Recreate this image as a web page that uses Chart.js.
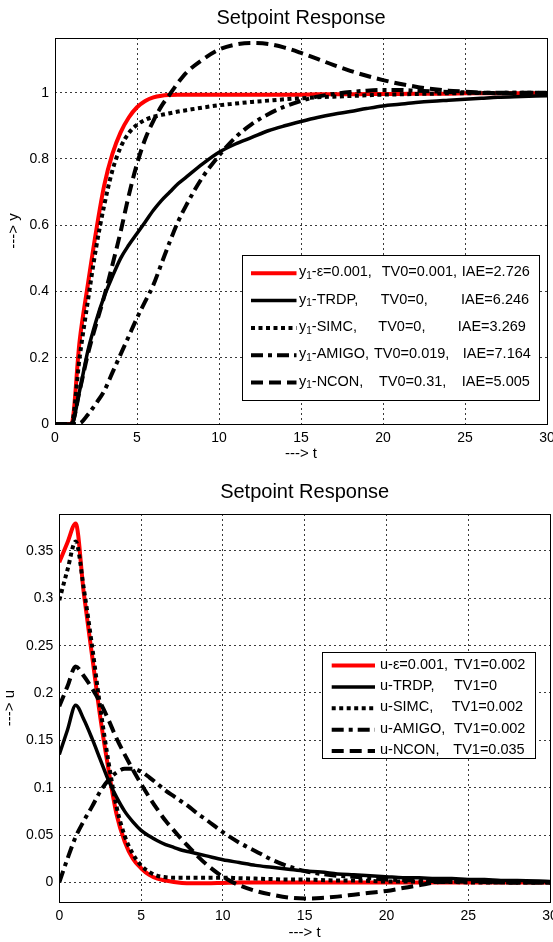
<!DOCTYPE html>
<html>
<head>
<meta charset="utf-8">
<script src="https://cdn.jsdelivr.net/npm/chart.js@4/dist/chart.umd.min.js"></script>
<style>
  html, body { margin: 0; padding: 0; background: #fff; }
  #wrap { position: relative; width: 553px; height: 942px; overflow: hidden; background: #fff; }
  canvas { position: absolute; left: 0; }
  #cy { top: 0; }
  #cu { top: 470px; }
</style>
</head>
<body>
<div id="wrap">
  <canvas id="cy" width="553" height="470"></canvas>
  <canvas id="cu" width="553" height="472"></canvas>
</div>
<script>
// ---------- output y(t) ----------
const timeY = [0, 1, 1.5, 2, 2.5, 3, 3.5, 4, 4.5, 5, 5.5, 6, 6.5, 7, 7.5, 8, 9, 10, 11, 12, 13, 14, 15,
               16, 17, 18, 19, 20, 21, 22, 23, 24, 25, 26, 27, 28, 30];
const yEps   = [0, 0, 0.25, 0.42, 0.58, 0.72, 0.815, 0.88, 0.925, 0.956, 0.975, 0.986, 0.991, 0.993, 0.994, 0.994,
                0.994, 0.994, 0.994, 0.994, 0.994, 0.994, 0.994, 0.995, 0.995, 0.995, 0.996, 0.996, 0.996, 0.997,
                0.997, 0.997, 0.998, 0.998, 0.998, 0.998, 0.999];
const yTrdp  = [0, 0, 0.1, 0.22, 0.31, 0.385, 0.445, 0.5, 0.54, 0.575, 0.61, 0.645, 0.675, 0.7, 0.725, 0.745,
                0.785, 0.82, 0.845, 0.865, 0.885, 0.9, 0.913, 0.925, 0.935, 0.943, 0.952, 0.96, 0.965, 0.97,
                0.974, 0.977, 0.98, 0.983, 0.986, 0.988, 0.991];
const ySimc  = [0, 0, 0.2, 0.37, 0.53, 0.66, 0.765, 0.835, 0.878, 0.903, 0.918, 0.927, 0.933, 0.938, 0.943, 0.947,
                0.955, 0.962, 0.967, 0.972, 0.976, 0.98, 0.983, 0.986, 0.988, 0.99, 0.992, 0.994, 0.995, 0.996,
                0.997, 0.998, 0.998, 0.999, 0.999, 1.0, 1.0];
const yAmigo = [0, 0, 0.002, 0.028, 0.062, 0.1, 0.155, 0.21, 0.265, 0.32, 0.37, 0.42, 0.485, 0.55, 0.61, 0.66,
                0.745, 0.81, 0.865, 0.905, 0.935, 0.958, 0.975, 0.988, 0.996, 1.002, 1.006, 1.008, 1.008, 1.006,
                1.004, 1.002, 1.001, 1.0, 1.0, 1.0, 1.0];
const yNcon  = [0, 0, 0.1, 0.21, 0.3, 0.385, 0.48, 0.58, 0.69, 0.785, 0.86, 0.915, 0.96, 0.995, 1.03, 1.06,
                1.1, 1.13, 1.145, 1.15, 1.147, 1.136, 1.12, 1.102, 1.083, 1.066, 1.051, 1.038, 1.027, 1.018,
                1.011, 1.006, 1.003, 1.0, 0.998, 0.998, 0.999];

// ---------- control signal u(t) ----------
const timeU = [0, 0.5, 1, 1.5, 2, 2.5, 3, 3.5, 4, 4.5, 5, 5.5, 6, 6.5, 7, 7.5, 8, 8.5, 9, 10, 11, 12, 13, 14,
               15, 16, 17, 18, 19, 20, 21, 22, 23, 24, 25, 26, 27, 28, 30];
const uEps   = [0.338, 0.359, 0.379, 0.305, 0.24, 0.175, 0.12, 0.072, 0.043, 0.025, 0.015, 0.008, 0.004, 0.002,
                0.0005, -0.0005, -0.001, -0.001, -0.001, -0.0005, 0, 0, 0, 0, 0, 0, 0, 0, 0, 0, 0, 0, 0, 0, 0,
                0, 0, 0, 0];
const uTrdp  = [0.135, 0.161, 0.187, 0.172, 0.152, 0.13, 0.108, 0.09, 0.075, 0.064, 0.055, 0.049, 0.044, 0.04,
                0.037, 0.034, 0.032, 0.03, 0.028, 0.024, 0.021, 0.018, 0.016, 0.014, 0.012, 0.011, 0.009, 0.008,
                0.007, 0.006, 0.005, 0.005, 0.004, 0.004, 0.003, 0.003, 0.002, 0.002, 0.001];
const uSimc  = [0.298, 0.33, 0.36, 0.31, 0.25, 0.185, 0.128, 0.08, 0.049, 0.03, 0.018, 0.011, 0.007, 0.0055,
                0.005, 0.005, 0.005, 0.005, 0.005, 0.005, 0.0045, 0.004, 0.0035, 0.003, 0.003, 0.0025, 0.002,
                0.002, 0.0015, 0.001, 0.001, 0.001, 0.0005, 0.0005, 0, 0, 0, 0, 0];
const uAmigo = [0, 0.025, 0.048, 0.065, 0.08, 0.096, 0.108, 0.116, 0.12, 0.12, 0.117, 0.111, 0.104, 0.097,
                0.091, 0.085, 0.079, 0.072, 0.066, 0.053, 0.042, 0.033, 0.024, 0.017, 0.012, 0.009, 0.007, 0.006,
                0.0045, 0.003, 0.0025, 0.002, 0.0015, 0.001, 0.001, 0.0005, 0, 0, 0];
const uNcon  = [0.186, 0.207, 0.228, 0.218, 0.205, 0.19, 0.172, 0.152, 0.135, 0.119, 0.104, 0.09, 0.077, 0.065,
                0.055, 0.045, 0.036, 0.027, 0.019, 0.006, -0.003, -0.009, -0.013, -0.016, -0.017, -0.0165,
                -0.015, -0.013, -0.011, -0.009, -0.006, -0.003, 0, 0.001, 0.0015, 0.001, 0.0005, 0, 0];

// ---------- ticks ----------
const xTickValues = [0, 5, 10, 15, 20, 25, 30];
const yTickValues = [0, 0.2, 0.4, 0.6, 0.8, 1];
const uTickValues = [0, 0.05, 0.1, 0.15, 0.2, 0.25, 0.3, 0.35];

// ---------- legend texts ----------
const methodNames = ['\u03b5=0.001', 'TRDP', 'SIMC', 'AMIGO', 'NCON'];
const tv0Labels   = ['TV0=0.001,', 'TV0=0,', 'TV0=0,', 'TV0=0.019,', 'TV0=0.31,'];
const iaeLabels   = ['IAE=2.726', 'IAE=6.246', 'IAE=3.269', 'IAE=7.164', 'IAE=5.005'];
const tv1Labels   = ['TV1=0.002', 'TV1=0', 'TV1=0.002', 'TV1=0.002', 'TV1=0.035'];

const chartTitle = 'Setpoint Response';

// line styles for the five controllers
const FONT = "'Liberation Sans', Arial, Helvetica, sans-serif";
const lineStyles = [
  { color: '#ff0000', width: 4,   dash: [] },
  { color: '#000000', width: 3.5, dash: [] },
  { color: '#000000', width: 4,   dash: [4, 3.5] },
  { color: '#000000', width: 4,   dash: [12, 5, 4, 5] },
  { color: '#000000', width: 4,   dash: [12, 6] }
];

Chart.defaults.font.family = FONT;
Chart.defaults.color = '#000';

const framePlugin = {
  id: 'frame',
  afterDatasetsDraw(chart) {
    const a = chart.chartArea, ctx = chart.ctx;
    const l = Math.round(a.left), t = Math.round(a.top), r = Math.round(a.right), b = Math.round(a.bottom);
    ctx.save();
    ctx.setLineDash([]);
    ctx.strokeStyle = '#000';
    ctx.lineWidth = 1;
    ctx.strokeRect(l + 0.5, t + 0.5, r - l, b - t);
    ctx.restore();
  }
};

function legendPlugin(spec) {
  return {
    id: 'boxLegend',
    afterDraw(chart) {
      const ctx = chart.ctx;
      ctx.save();
      ctx.fillStyle = '#fff';
      ctx.fillRect(spec.x, spec.y, spec.w, spec.h);
      ctx.strokeStyle = '#000';
      ctx.lineWidth = 1;
      ctx.setLineDash([]);
      ctx.strokeRect(spec.x + 0.5, spec.y + 0.5, spec.w, spec.h);
      spec.rows.forEach((row, i) => {
        const cy = spec.rowY0 + i * spec.rowStep;
        const st = lineStyles[i];
        ctx.beginPath();
        ctx.setLineDash(st.dash);
        ctx.lineCap = 'butt';
        ctx.strokeStyle = st.color;
        ctx.lineWidth = st.width;
        ctx.moveTo(spec.sampleX0, cy + 1);
        ctx.lineTo(spec.sampleX1, cy + 1);
        ctx.stroke();
        ctx.setLineDash([]);
        ctx.fillStyle = '#000';
        ctx.textBaseline = 'middle';
        ctx.textAlign = 'left';
        let x = spec.textX;
        ctx.font = spec.fontSize + 'px ' + FONT;
        ctx.fillText(spec.symbol, x, cy);
        x += ctx.measureText(spec.symbol).width;
        if (spec.sub) {
          ctx.font = Math.round(spec.fontSize * 0.7) + 'px ' + FONT;
          ctx.fillText(spec.sub, x, cy + 4);
          x += ctx.measureText(spec.sub).width;
          ctx.font = spec.fontSize + 'px ' + FONT;
        }
        ctx.fillText('-' + row.name + ',', x, cy);
        row.cols.forEach((c) => ctx.fillText(c.text, spec.textX + c.dx, cy));
      });
      ctx.restore();
    }
  };
}

function buildChart(canvas, cfg) {
  const W = canvas.width, H = canvas.height;
  const names = ['eps', 'TRDP', 'SIMC', 'AMIGO', 'NCON'];
  const datasets = cfg.series.map((vals, i) => ({
    label: names[i],
    data: cfg.time.map((t, k) => ({ x: t, y: vals[k] })),
    borderColor: lineStyles[i].color,
    borderWidth: lineStyles[i].width,
    borderDash: lineStyles[i].dash,
    borderCapStyle: 'butt',
    pointRadius: 0,
    fill: false,
    cubicInterpolationMode: 'monotone',
    order: 4 - i
  }));
  const area = cfg.area;
  return new Chart(canvas, {
    type: 'line',
    data: { datasets },
    plugins: [framePlugin, legendPlugin(cfg.legend)],
    options: {
      responsive: false,
      animation: false,
      events: [],
      layout: { padding: { left: 0, top: 0, bottom: 0, right: W - area.right } },
      plugins: {
        legend: { display: false },
        tooltip: { enabled: false },
        title: {
          display: true,
          text: chartTitle,
          fullSize: false,
          color: '#000',
          font: { family: FONT, size: 20, weight: 'normal', lineHeight: 1.2 },
          padding: cfg.titlePad
        }
      },
      scales: {
        x: {
          type: 'linear',
          min: 0,
          max: 30,
          afterBuildTicks: (s) => { s.ticks = xTickValues.map(v => ({ value: v })); },
          afterFit: (s) => {
            s.height = H - area.bottom;
            s.paddingLeft = 0; s.paddingRight = 0; s.paddingTop = 0; s.paddingBottom = 0;
          },
          ticks: {
            autoSkip: false, maxRotation: 0, padding: cfg.xTickPad,
            font: { size: 14 }, color: '#000',
            callback: (v) => String(v)
          },
          grid: { color: '#3a3a3a', lineWidth: 1, drawTicks: false },
          border: { display: false, dash: [2, 3] },
          title: {
            display: true, text: '---> t', color: '#000',
            font: { size: 15, lineHeight: 1.2 },
            padding: { top: 0, bottom: cfg.xTitlePad }
          }
        },
        y: {
          type: 'linear',
          min: cfg.yMin,
          max: cfg.yMax,
          afterBuildTicks: (s) => { s.ticks = cfg.yTicks.map(v => ({ value: v })); },
          afterFit: (s) => {
            s.width = area.left;
            s.paddingLeft = 0; s.paddingRight = 0; s.paddingTop = 0; s.paddingBottom = 0;
          },
          ticks: {
            autoSkip: false, padding: 6,
            font: { size: 14 }, color: '#000',
            callback: (v) => String(+Number(v).toFixed(3))
          },
          grid: { color: '#3a3a3a', lineWidth: 1, drawTicks: false },
          border: { display: false, dash: [2, 3] },
          title: {
            display: true, text: cfg.yTitle, color: '#000',
            font: { size: 15, lineHeight: 1.2 },
            padding: { top: cfg.yTitlePad, bottom: 0 }
          }
        }
      }
    }
  });
}

function legendRows(extraCols) {
  return methodNames.map((n, i) => ({ name: n, cols: extraCols(i) }));
}

// top: plant output
const tvColY = [82.7, 81.7, 79.3, 75, 80];
const iaeColY = [162.7, 162, 158.7, 163.7, 162.7];
buildChart(document.getElementById('cy'), {
  time: timeY,
  series: [yEps, yTrdp, ySimc, yAmigo, yNcon],
  area: { left: 55, top: 38, right: 547, bottom: 424 },
  yMin: 0, yMax: 1.165, yTicks: yTickValues,
  yTitle: '---> y',
  titlePad: { top: 6, bottom: 8 },
  xTickPad: 6, xTitlePad: 7, yTitlePad: 5,
  legend: {
    x: 242, y: 255, w: 297, h: 145,
    sampleX0: 251, sampleX1: 296.5, textX: 299,
    rowY0: 272.3, rowStep: 27.3, fontSize: 14.5,
    symbol: 'y', sub: '1',
    rows: legendRows(i => [{ text: tv0Labels[i], dx: tvColY[i] }, { text: iaeLabels[i], dx: iaeColY[i] }])
  }
});

// bottom: controller output
const tvColU = [74, 74, 71.7, 74, 73.3];
buildChart(document.getElementById('cu'), {
  time: timeU,
  series: [uEps, uTrdp, uSimc, uAmigo, uNcon],
  area: { left: 59.3, top: 44, right: 550, bottom: 432.3 },
  yMin: -0.021, yMax: 0.389, yTicks: uTickValues,
  yTitle: '---> u',
  titlePad: { top: 10, bottom: 10 },
  xTickPad: 5, xTitlePad: 0, yTitlePad: 1,
  legend: {
    x: 322, y: 182, w: 213, h: 106,
    sampleX0: 331.7, sampleX1: 375, textX: 380,
    rowY0: 194.5, rowStep: 21.4, fontSize: 14.5,
    symbol: 'u', sub: '',
    rows: legendRows(i => [{ text: tv1Labels[i], dx: tvColU[i] }])
  }
});
</script>
</body>
</html>
